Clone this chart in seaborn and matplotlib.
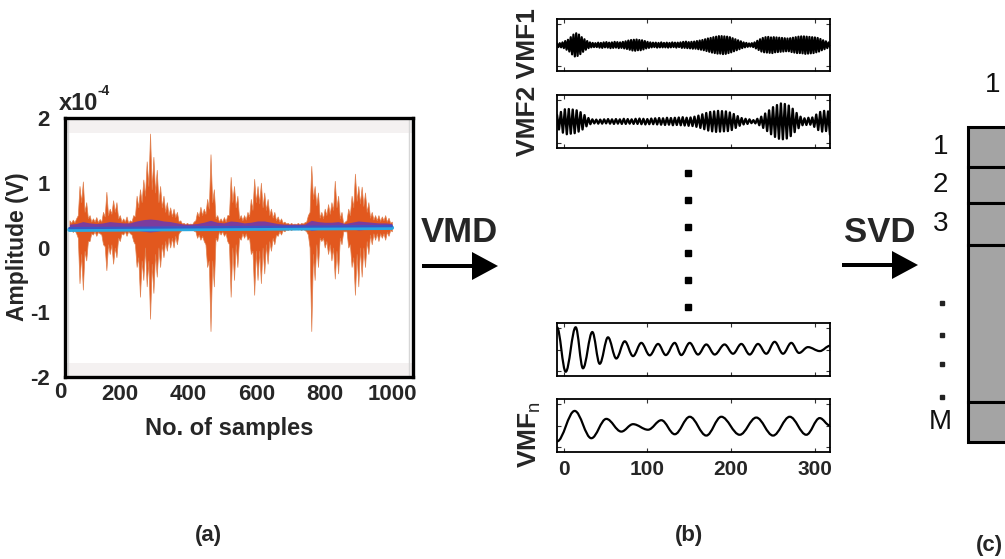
import numpy as np
import matplotlib
matplotlib.use("Agg")
import matplotlib.pyplot as plt
import seaborn as sns
from matplotlib.path import Path
from matplotlib.patches import PathPatch, FancyArrow
from matplotlib.transforms import blended_transform_factory

# ---------------- (a) recorded trace, envelope in units of 1e-4 V ----------------
# spike tops / bottoms on a regular grid, and the valleys between neighbouring spikes
signal_upper = [0.42, 0.43, 0.45, 0.95, 1.02, 0.70, 0.50, 0.45, 0.47, 0.44,
                0.55, 0.86, 0.60, 0.73, 0.70, 0.50, 0.45, 0.48, 0.42, 0.50,
                0.80, 0.90, 1.05, 1.33, 1.76, 1.40, 1.20, 0.95, 0.80, 0.70,
                0.62, 0.60, 0.55, 0.42, 0.38, 0.38, 0.37, 0.40, 0.55, 0.63,
                0.60, 0.75, 1.44, 0.90, 0.50, 0.45, 0.47, 0.50, 1.09, 0.95,
                0.80, 0.50, 0.50, 0.55, 0.75, 1.06, 0.95, 1.00, 0.85, 0.75,
                0.60, 0.55, 0.48, 0.45, 0.40, 0.38, 0.38, 0.37, 0.38, 0.38,
                0.39, 0.50, 1.26, 0.95, 0.85, 0.55, 0.60, 0.67, 0.70, 1.03,
                0.80, 0.55, 0.40, 0.60, 0.80, 1.14, 0.95, 0.94, 0.85, 0.70,
                0.55, 0.50, 0.50, 0.48, 0.50, 0.46, 0.40]
upper_valleys = [0.38, 0.39, 0.50, 0.70, 0.55, 0.45, 0.40, 0.40, 0.39, 0.40,
                 0.48, 0.50, 0.52, 0.55, 0.45, 0.40, 0.40, 0.38, 0.40, 0.48,
                 0.62, 0.70, 0.80, 0.95, 0.90, 0.85, 0.70, 0.62, 0.55, 0.50,
                 0.48, 0.47, 0.40, 0.37, 0.36, 0.36, 0.36, 0.42, 0.48, 0.50,
                 0.52, 0.60, 0.70, 0.45, 0.40, 0.40, 0.40, 0.50, 0.70, 0.62,
                 0.45, 0.42, 0.43, 0.48, 0.58, 0.70, 0.68, 0.62, 0.58, 0.50,
                 0.46, 0.42, 0.40, 0.38, 0.37, 0.36, 0.36, 0.36, 0.36, 0.37,
                 0.40, 0.55, 0.75, 0.65, 0.46, 0.45, 0.50, 0.52, 0.58, 0.62,
                 0.45, 0.37, 0.42, 0.50, 0.62, 0.72, 0.68, 0.64, 0.55, 0.46,
                 0.43, 0.42, 0.41, 0.42, 0.40, 0.38]
signal_lower = [0.25, 0.24, 0.22, -0.55, -0.65, -0.20, 0.10, 0.20, 0.18, 0.22,
                0.05, -0.35, -0.10, -0.25, -0.15, 0.10, 0.20, 0.18, 0.22, 0.10,
                -0.30, -0.76, -0.50, -0.60, -1.10, -0.70, -0.45, -0.30, -0.15, -0.05,
                0.00, 0.00, 0.05, 0.25, 0.28, 0.28, 0.28, 0.26, 0.15, 0.12,
                0.10, -0.30, -1.29, -0.60, 0.10, 0.20, 0.18, 0.10, -0.76, -0.50,
                -0.30, 0.12, 0.15, 0.12, -0.10, -0.73, -0.50, -0.55, -0.40, -0.25,
                -0.05, 0.05, 0.18, 0.20, 0.25, 0.27, 0.27, 0.28, 0.28, 0.27,
                0.27, 0.20, -1.29, -0.50, -0.30, 0.10, 0.00, -0.10, -0.20, -0.48,
                -0.40, 0.05, 0.25, 0.00, -0.30, -0.73, -0.60, -0.45, -0.30, -0.10,
                0.05, 0.12, 0.10, 0.15, 0.12, 0.18, 0.25]
lower_valleys = [0.28, 0.27, 0.15, -0.10, -0.05, 0.10, 0.22, 0.25, 0.24, 0.20,
                 0.02, 0.05, 0.05, 0.00, 0.15, 0.22, 0.25, 0.25, 0.20, 0.05,
                 -0.15, -0.20, 0.00, -0.20, -0.25, -0.10, 0.00, 0.05, 0.10, 0.15,
                 0.15, 0.18, 0.22, 0.28, 0.30, 0.30, 0.29, 0.25, 0.20, 0.18,
                 0.05, -0.20, -0.20, 0.15, 0.25, 0.25, 0.22, 0.05, 0.00, 0.05,
                 0.15, 0.22, 0.22, 0.15, -0.05, -0.05, -0.05, 0.00, 0.05, 0.10,
                 0.15, 0.20, 0.25, 0.27, 0.28, 0.29, 0.29, 0.29, 0.29, 0.29,
                 0.25, 0.00, -0.10, 0.05, 0.15, 0.15, 0.10, 0.05, 0.00, -0.05,
                 0.15, 0.25, 0.25, 0.05, -0.15, -0.10, 0.00, 0.00, 0.10, 0.20,
                 0.22, 0.22, 0.22, 0.22, 0.24, 0.27]
mode_halfwidth = [0.02, 0.03, 0.06, 0.04, 0.03, 0.04, 0.06, 0.05, 0.04, 0.04,
                  0.07, 0.09, 0.10, 0.09, 0.07, 0.06, 0.04, 0.02, 0.02, 0.03,
                  0.05, 0.08, 0.05, 0.04, 0.07, 0.06, 0.04, 0.05, 0.07, 0.07,
                  0.05, 0.03, 0.02, 0.02, 0.02, 0.02, 0.08, 0.06, 0.05, 0.05,
                  0.06, 0.03, 0.05, 0.07, 0.06, 0.05, 0.04, 0.04, 0.03]
mode_centre = 0.34
signal_span = (51, 998)
trend_x = [51, 998]
trend_y = [0.30, 0.33]
a_xticks = [200, 400, 600, 800, 1000]
a_yticks = [-2, -1, 0, 1, 2]

# ---------------- (b) VMD modes ----------------
# dense modes: successive extrema, in hundredths of full scale
vmf1_peaks = [6, -8, 7, -9, 10, -12, 15, -18, 20, -25,
              30, -36, 40, -44, 45, -42, 40, -35, 30, -26,
              22, -18, 15, -12, 10, -9, 8, -8, 7, -8,
              9, -10, 8, -11, 10, -9, 11, -10, 9, -12,
              10, -11, 12, -10, 11, -12, 10, -11, 12, -13,
              14, -15, 17, -18, 19, -21, 20, -22, 21, -20,
              19, -20, 18, -17, 15, -13, 12, -11, 10, -9,
              9, -8, 9, -10, 8, -9, 10, -9, 8, -9,
              9, -10, 8, -9, 10, -8, 9, -10, 9, -8,
              10, -11, 12, -11, 13, -12, 11, -13, 12, -14,
              13, -14, 15, -16, 17, -18, 19, -20, 22, -23,
              25, -26, 27, -29, 30, -31, 32, -33, 34, -33,
              34, -35, 33, -34, 32, -31, 30, -28, 26, -24,
              22, -20, 18, -16, 14, -12, 10, -9, 8, -7,
              6, -6, 7, -8, 10, -13, 16, -19, 22, -25,
              27, -28, 30, -29, 31, -30, 29, -31, 30, -28,
              29, -27, 28, -26, 27, -25, 26, -24, 25, -24,
              26, -27, 28, -29, 30, -31, 32, -31, 33, -32,
              33, -34, 32, -33, 31, -32, 30, -31, 29, -28,
              27, -25, 23, -20, 18, -16, 14, -12, 10, -8]
vmf2_peaks = [25, -30, 36, -42, 46, -48, 47, -46, 45, -44,
              42, -38, 35, -30, 24, -18, 13, -10, 8, -7,
              7, -8, 7, -8, 8, -7, 9, -8, 8, -9,
              9, -8, 8, -9, 10, -9, 9, -8, 8, -9,
              10, -9, 11, -10, 10, -11, 9, -10, 11, -10,
              12, -11, 13, -12, 12, -13, 14, -12, 13, -14,
              14, -13, 15, -14, 16, -15, 14, -16, 15, -17,
              18, -20, 22, -24, 27, -29, 32, -34, 36, -37,
              38, -39, 40, -38, 39, -37, 38, -36, 34, -32,
              28, -24, 20, -16, 13, -11, 10, -9, 8, -6,
              5, -7, 10, -14, 18, -24, 30, -36, 42, -48,
              54, -58, 62, -65, 68, -67, 66, -64, 60, -55,
              48, -40, 32, -25, 18, -14, 12, -13, 14, -12,
              15, -20, 26, -32, 36, -38, 40, -36, 38, -50]
vmf_span = (-8, 318)
# smooth modes: extrema as (sample, value)
vmf_m1_x = [-8, 2.4, 14.3, 23.0, 34.2, 43.0, 52.9, 62.8, 72.9, 82.8, 92.7,
            102.7, 112.7, 121.9, 132.6, 140.4, 150.5, 160.4, 170.3, 180.3,
            192.1, 202.2, 212.1, 222.1, 232.0, 241.9, 251.9, 261.9, 271.8,
            281.0, 291.7, 305.8, 318]
vmf_m1_y = [0.84, -0.84, 0.84, -0.71, 0.66, -0.54, 0.46, -0.34, 0.31, -0.25, 0.25,
            -0.22, 0.21, -0.21, 0.25, -0.21, 0.25, -0.19, 0.19, -0.19,
            0.19, -0.16, 0.21, -0.19, 0.21, -0.16, 0.29, -0.16, 0.25,
            -0.13, 0.09, -0.06, 0.14]
vmf_n_x = [-8, 13.1, 33.0, 50.9, 68.8, 82.8, 100.7, 116.6, 132.6, 150.5,
           170.3, 188.2, 210.2, 230.0, 250.0, 269.9, 289.7, 305.7, 318]
vmf_n_y = [-0.60, 0.55, -0.48, 0.25, -0.23, 0.05, -0.16, 0.20, -0.33, 0.33,
           -0.38, 0.33, -0.35, 0.30, -0.38, 0.33, -0.35, 0.28, 0.0]
vmf_xticks = [0, 100, 200, 300]

# ---------------- (c) decomposition matrix ----------------
row_labels = ["1", "2", "3", "", "M"]
row_heights = [1.0, 0.9, 1.05, 3.9, 1.0]
col_label = "1"

sns.set_theme(style="white")
plt.rcParams["font.family"] = ["Liberation Sans", "DejaVu Sans"]
plt.rcParams["mathtext.fontset"] = "custom"
plt.rcParams["mathtext.rm"] = "Liberation Sans"
plt.rcParams["mathtext.bf"] = "Liberation Sans:bold"
plt.rcParams["axes.unicode_minus"] = False

W, H = 1005, 559
fig = plt.figure(figsize=(W / 100, H / 100), dpi=100)
fig.patch.set_facecolor("white")


def px_box(l, t, r, b):
    return [l / W, 1 - b / H, (r - l) / W, (b - t) / H]


def smooth_wave(ax, xs, ys, k=0.36, lw=1.6):
    verts = [(xs[0], ys[0])]
    codes = [Path.MOVETO]
    for x0, y0, x1, y1 in zip(xs[:-1], ys[:-1], xs[1:], ys[1:]):
        d = x1 - x0
        verts += [(x0 + k * d, y0), (x1 - k * d, y1), (x1, y1)]
        codes += [Path.CURVE4] * 3
    ax.add_patch(PathPatch(Path(verts, codes), fill=False, lw=lw,
                           ec="black", capstyle="round", joinstyle="round"))


def interleave(peaks, valleys):
    out = np.empty(len(peaks) + len(valleys))
    out[0::2] = peaks
    out[1::2] = valleys
    return out


# ---- panel (a)
ax = fig.add_axes(px_box(65, 118, 413, 377))
ax.axhspan(1.77, 2.0, color="#f4f1f1", lw=0, zorder=0)
ax.axhspan(-2.0, -1.78, color="#f4f1f1", lw=0, zorder=0)
for xv in (46, 1048):
    ax.axvline(xv, color="#d6d6d6", lw=1, zorder=0)
top = interleave(signal_upper, upper_valleys)
bot = interleave(signal_lower, lower_valleys)
x_env = np.linspace(*signal_span, len(top))
ax.fill_between(x_env, bot, top, color="#e2581e",
                edgecolor="#e0804f", lw=0.5, zorder=2)
x_mode = np.linspace(*signal_span, len(mode_halfwidth))
hw = np.array(mode_halfwidth)
ax.fill_between(x_mode, mode_centre - hw, mode_centre + hw,
                color="#7b3c9e", lw=0, zorder=3)
sns.lineplot(x=trend_x, y=np.array(trend_y) - 0.025, color="#2aa8e0",
             linewidth=3.2, ax=ax, zorder=4)
sns.lineplot(x=trend_x, y=trend_y, color="#3b55c6", linewidth=1.6,
             ax=ax, zorder=5)
ax.set_xlim(38, 1060)
ax.set_ylim(-2, 2)
ax.set_xticks(a_xticks)
ax.set_yticks(a_yticks)
ax.tick_params(length=0, labelsize=16)
ax.tick_params(axis="y", pad=11)
ax.tick_params(axis="x", pad=5)
for lbl in ax.get_xticklabels() + ax.get_yticklabels():
    lbl.set_fontweight("bold")
for s in ax.spines.values():
    s.set_visible(True)
    s.set_linewidth(2.4)
    s.set_color("black")

# ---- panel (b)
boxes = [(19, 71), (95, 148), (323, 376), (399, 452)]
vmf_axes = []
for i, (t, b) in enumerate(boxes):
    a = fig.add_axes(px_box(557, t, 830, b))
    a.set_xlim(*vmf_span)
    a.set_ylim(-1, 1)
    a.set_xticks(vmf_xticks)
    a.set_yticks([-0.8, 0, 0.8])
    a.tick_params(direction="in", length=3, width=0.8, top=True, right=True,
                  bottom=True, left=True, labelleft=False,
                  labelbottom=(i == 3), labelsize=15, pad=6, color="#333333")
    for s in a.spines.values():
        s.set_visible(True)
        s.set_linewidth(1.3)
        s.set_color("black")
    vmf_axes.append(a)
for lbl in vmf_axes[3].get_xticklabels():
    lbl.set_fontweight("bold")

sns.lineplot(x=np.linspace(*vmf_span, len(vmf1_peaks)),
             y=np.array(vmf1_peaks) / 100, color="black", linewidth=1.6,
             ax=vmf_axes[0])
sns.lineplot(x=np.linspace(*vmf_span, len(vmf2_peaks)),
             y=np.array(vmf2_peaks) / 100, color="black", linewidth=1.7,
             ax=vmf_axes[1])
smooth_wave(vmf_axes[2], vmf_m1_x, vmf_m1_y)
smooth_wave(vmf_axes[3], vmf_n_x, vmf_n_y)
for a in vmf_axes:
    a.set_xlabel("")
    a.set_ylabel("")

# ---- panel (c)
axc = fig.add_axes(px_box(968, 127, 1100, 442))
heights = np.array(row_heights)
edges = np.concatenate([[0], np.cumsum(heights)])
centers = edges[:-1] + heights / 2
bars = axc.barh(centers, width=np.ones(len(heights)), height=heights, left=0,
                color="#a4a4a4", edgecolor="black", linewidth=2.2)
for p in bars.patches:
    p.set_clip_on(False)
axc.set_xlim(0, 1)
axc.set_ylim(edges[-1], 0)
axc.axis("off")
tr = blended_transform_factory(axc.transAxes, axc.transData)
for lab, c in zip(row_labels, centers):
    if lab:
        axc.text(-0.21, c, lab, transform=tr, ha="center", va="center",
                 fontsize=20, color="#111111")
dot_y = edges[3] + np.array([0.37, 0.57, 0.76, 0.97]) * heights[3]
axc.plot([-0.2] * len(dot_y), dot_y, "s", ms=2.2, color="#222222",
         transform=tr, clip_on=False)

# ---- annotation layer in pixel coordinates
ov = fig.add_axes([0, 0, 1, 1])
ov.set_xlim(0, W)
ov.set_ylim(H, 0)
ov.axis("off")

ov.text(18, 247, "Amplitude (V)", rotation=90, ha="center", va="center",
        fontsize=16.5, fontweight="bold")
ov.text(229, 428, "No. of samples", ha="center", va="center",
        fontsize=17, fontweight="bold")
ov.text(59, 103, "x10", ha="left", va="center", fontsize=17, fontweight="bold")
ov.text(98, 91, "-4", ha="left", va="center", fontsize=10, fontweight="bold")
ov.text(60, 393, "0", ha="center", va="center", fontsize=16, fontweight="bold")

ov.text(528, 82, "VMF2 VMF1", rotation=90, ha="center", va="center",
        fontsize=19, fontweight="bold")
ov.text(530, 434, r"VMF$_\mathrm{n}$", rotation=90, ha="center", va="center",
        fontsize=19, fontweight="bold")
ov.plot([688] * 6, [173, 200, 227, 253, 280, 307], "s", ms=4.3, color="black")

ov.text(459, 232, "VMD", ha="center", va="center", fontsize=25,
        fontweight="bold")
ov.text(880, 233, "SVD", ha="center", va="center", fontsize=25,
        fontweight="bold")
ov.add_patch(FancyArrow(422, 266, 76, 0, width=4, head_width=28,
                        head_length=26, length_includes_head=True,
                        color="black", lw=0))
ov.add_patch(FancyArrow(842, 265, 76, 0, width=4, head_width=28,
                        head_length=26, length_includes_head=True,
                        color="black", lw=0))
ov.text(993, 85, col_label, ha="center", va="center", fontsize=20,
        color="#111111")

ov.text(208, 535, "(a)", ha="center", va="center", fontsize=16,
        fontweight="bold")
ov.text(689, 535, "(b)", ha="center", va="center", fontsize=16,
        fontweight="bold")
ov.text(989, 545, "(c)", ha="center", va="center", fontsize=16,
        fontweight="bold")

fig.savefig("out.png", dpi=100, facecolor="white")
